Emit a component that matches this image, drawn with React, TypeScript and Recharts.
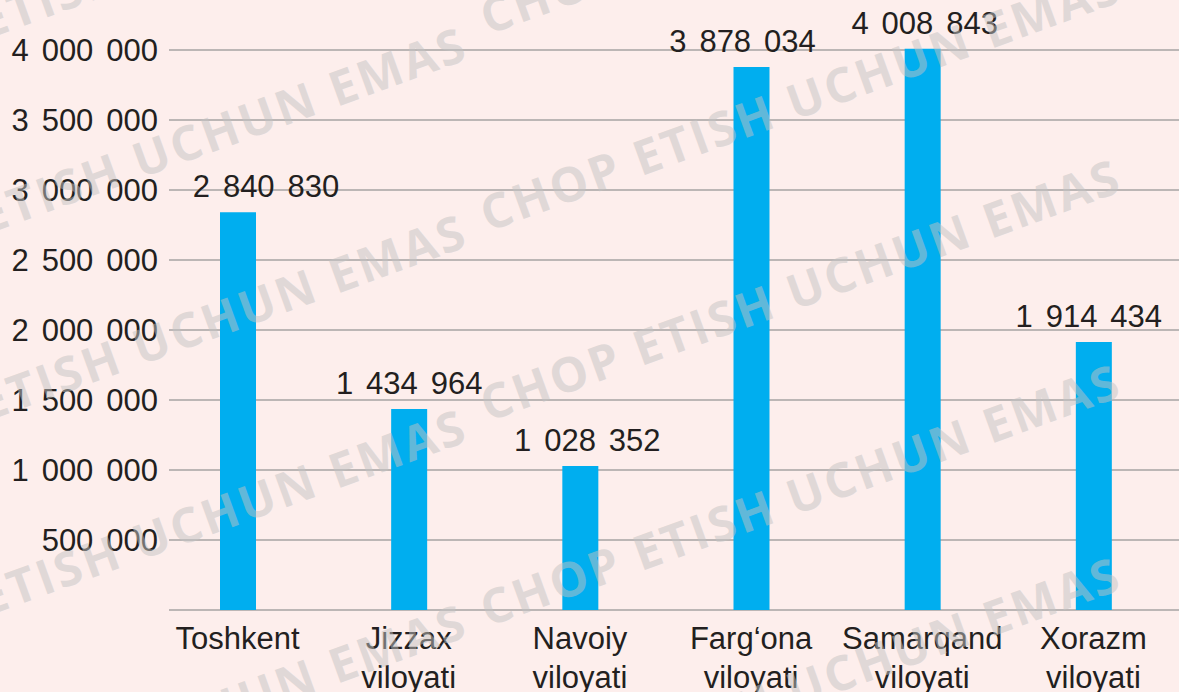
import { BarChart, Bar, XAxis, YAxis, CartesianGrid, LabelList } from "recharts";

const regions = [
  "Toshkent",
  "Jizzax viloyati",
  "Navoiy viloyati",
  "Farg‘ona viloyati",
  "Samarqand viloyati",
  "Xorazm viloyati",
];
const population = [2840830, 1434964, 1028352, 3878034, 4008843, 1914434];
const yTicks = [0, 500000, 1000000, 1500000, 2000000, 2500000, 3000000, 3500000, 4000000];

const data = regions.map((name, i) => ({ name, value: population[i] }));

// small horizontal nudges of the value labels, as in the original layout
const labelNudge = [28, 0, 7, -9, 2, -5];

const font = "'Liberation Sans', Arial, sans-serif";
const ink = "#231f20";
const fs = 31;

// groups of three digits separated by a wide space, e.g. "2 840 830"
const fmt = (v: number) => (v ? String(v).replace(/\B(?=(\d{3})+(?!\d))/g, "\u2005\u2006") : "");

const YTick = ({ x, y, payload }: any) => (
  <text x={x + 6} y={y} dy="0.355em" textAnchor="end" fontSize={fs} fill={ink} fontFamily={font}>
    {fmt(payload.value)}
  </text>
);

const XTick = ({ x, y, payload }: any) => {
  const parts = String(payload.value).split(" ");
  return (
    <text x={x} y={y} textAnchor="middle" fontSize={fs} fill={ink} fontFamily={font}>
      {parts.map((p, i) => (
        <tspan key={i} x={x} dy={39}>
          {p}
        </tspan>
      ))}
    </text>
  );
};

const ValueLabel = ({ x, y, width, value, index }: any) => (
  <text
    x={x + width / 2 + (labelNudge[index] || 0)}
    y={y - 15}
    textAnchor="middle"
    fontSize={fs}
    fill={ink}
    fontFamily={font}
  >
    {fmt(value)}
  </text>
);

const gridLine = (p: any) =>
  p.y1 <= p.y + 1 ? (
    <g key={p.key} />
  ) : (
    <line key={p.key} x1={p.x1 + 17} y1={p.y1} x2={p.x2} y2={p.y2} stroke="#a6a3a3" strokeWidth={1.5} />
  );

// "not for print" watermark, two staggered columns
const markRight = [35, 232, 422, 627, 820];
const markLeft = [95, 290, 477, 672, 867];

const Watermark = () => (
  <svg
    width={1179}
    height={692}
    style={{ position: "absolute", left: 0, top: 0, pointerEvents: "none" }}
  >
    {[...markLeft.map((y) => [-166, y]), ...markRight.map((y) => [488, y])].map(([x, y], i) => (
      <text
        key={i}
        x={x}
        y={y}
        transform={`rotate(-20 ${x} ${y})`}
        fontFamily="'Open Sans', 'DejaVu Sans', sans-serif"
        fontWeight="bold"
        fontSize={48}
        fill="#c3c3c3"
        fillOpacity={0.5}
        textLength={675}
        lengthAdjust="spacing"
      >
        CHOP ETISH UCHUN EMAS
      </text>
    ))}
  </svg>
);

export default function App() {
  return (
    <div
      style={{
        position: "absolute",
        left: 0,
        top: 0,
        width: 1179,
        height: 692,
        background: "#fdeeec",
        overflow: "hidden",
      }}
    >
      <BarChart width={1179} height={692} data={data} margin={{ top: 36, right: 0, bottom: 0, left: 0 }}>
        <CartesianGrid vertical={false} horizontal={gridLine} />
        <XAxis
          dataKey="name"
          height={82}
          axisLine={false}
          tickLine={false}
          tickSize={0}
          tickMargin={0}
          interval={0}
          tick={<XTick />}
        />
        <YAxis
          width={152}
          domain={[0, 4100000]}
          ticks={yTicks}
          axisLine={false}
          tickLine={false}
          tickSize={0}
          tickMargin={0}
          interval={0}
          tick={<YTick />}
        />
        <Bar dataKey="value" fill="#00aeef" barSize={36} isAnimationActive={false}>
          <LabelList dataKey="value" content={<ValueLabel />} />
        </Bar>
      </BarChart>
      <Watermark />
    </div>
  );
}
